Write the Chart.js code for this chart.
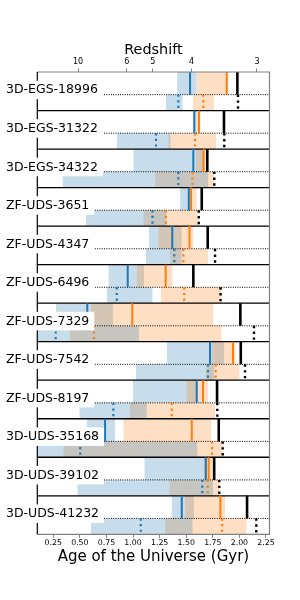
<!DOCTYPE html>
<html>
<head>
<meta charset="utf-8">
<script src="https://cdn.jsdelivr.net/npm/chart.js@4.4.1/dist/chart.umd.min.js"></script>
<style>
html, body { margin: 0; padding: 0; background: #ffffff; }
</style>
</head>
<body>
<canvas id="chart" width="300" height="600"></canvas>
<script>
const galaxies = ['3D-EGS-18996', '3D-EGS-31322', '3D-EGS-34322', 'ZF-UDS-3651', 'ZF-UDS-4347', 'ZF-UDS-6496',
	'ZF-UDS-7329', 'ZF-UDS-7542', 'ZF-UDS-8197', '3D-UDS-35168', '3D-UDS-39102', '3D-UDS-41232'];

// solid (upper half of each row), ages in Gyr
const blueLoSolid    = [1.414, 1.564, 1.003, 1.442, 1.150, 0.768, 0.276, 1.317, 0.997, 0.567, 1.106, 1.362];
const blueMedSolid   = [1.536, 1.576, 1.567, 1.524, 1.369, 0.950, 0.570, 1.724, 1.599, 0.737, 1.684, 1.458];
const blueHiSolid    = [1.599, 1.592, 1.667, 1.536, 1.458, 1.103, 0.815, 1.858, 1.605, 0.830, 1.696, 1.573];
const orangeLoSolid  = [1.599, 1.592, 1.592, 1.531, 1.238, 1.035, 0.605, 1.740, 1.501, 0.909, 1.667, 1.489];
const orangeMedSolid = [1.881, 1.620, 1.663, 1.545, 1.531, 1.307, 0.993, 1.940, 1.658, 1.552, 1.711, 1.821];
const orangeHiSolid  = [1.896, 1.636, 1.710, 1.599, 1.567, 1.371, 1.755, 1.964, 1.708, 1.736, 1.757, 1.865];
const blackSolid     = [1.981, 1.855, 1.698, 1.646, 1.702, 1.567, 2.009, 2.013, 1.790, 1.806, 1.763, 2.072];

// dotted (lower half of each row)
const blueLoDotted    = [1.310, 0.847, 0.337, 0.558, 1.122, 0.753, 0.050, 1.026, 0.495, 0.050, 0.476, 0.602];
const blueMedDotted   = [1.426, 1.216, 1.426, 1.183, 1.388, 0.847, 0.273, 1.705, 0.815, 0.504, 1.651, 1.073];
const blueHiDotted    = [1.467, 1.354, 1.708, 1.317, 1.458, 1.185, 1.056, 1.761, 1.129, 1.606, 1.752, 1.561];
const orangeLoDotted  = [1.561, 1.332, 1.207, 1.097, 1.348, 1.260, 0.407, 1.682, 0.971, 0.345, 1.341, 1.301];
const orangeMedDotted = [1.661, 1.583, 1.559, 1.308, 1.473, 1.481, 0.633, 1.776, 1.364, 1.743, 1.703, 1.838];
const orangeHiDotted  = [1.761, 1.780, 1.761, 1.614, 1.708, 1.827, 1.834, 2.003, 1.771, 1.843, 1.808, 2.069];
const blackDotted     = [1.987, 1.858, 1.764, 1.618, 1.771, 1.823, 2.137, 2.053, 1.792, 1.843, 1.811, 2.159];

const ageTicks = [0.25, 0.50, 0.75, 1.00, 1.25, 1.50, 1.75, 2.00, 2.25];
const redshiftLabels = ['10', '6', '5', '4', '3'];
const redshiftAges = [0.483, 0.941, 1.185, 1.551, 2.165];

const X_MIN = 0.1, X_MAX = 2.283;
const ROW = 1.7, SPLIT = 1.0;

const BLUE = '#1f77b4', ORANGE = '#ff7f0e';
const BLUE_FILL = 'rgba(31,119,180,0.25)', ORANGE_FILL = 'rgba(255,127,14,0.25)';

function halfRange(i, sub)
{
	if (sub === 'solid')
		return [i * ROW, i * ROW + SPLIT];
	return [i * ROW + SPLIT, (i + 1) * ROW];
}

function verticals(values, sub, color, width)
{
	let pts = [];
	values.forEach((v, i) => {
		const [y0, y1] = halfRange(i, sub);
		pts.push({x: v, y: y0}, {x: v, y: y1}, {x: v, y: null});
	});
	return {
		data: pts,
		borderColor: color,
		borderWidth: width,
		borderDash: sub === 'dotted' ? [width, 3.4] : [],
		borderCapStyle: 'butt',
		pointRadius: 0,
		fill: false
	};
}

function band(lo, hi, i, sub, color)
{
	const [y0, y1] = halfRange(i, sub);
	return {
		data: [{x: lo, y: y1}, {x: hi, y: y1}],
		borderColor: 'rgba(0,0,0,0)',
		borderWidth: 0,
		backgroundColor: color,
		pointRadius: 0,
		fill: {value: y0}
	};
}

function hLines(offset, count)
{
	let pts = [];
	for (let i = 0; i < count; i++)
	{
		const yv = i * ROW + offset;
		pts.push({x: X_MIN, y: yv}, {x: X_MAX, y: yv}, {x: X_MAX, y: null});
	}
	return pts;
}

// first dataset is drawn last (on top)
let datasets = [
	verticals(blackSolid, 'solid', '#000000', 2.6),
	verticals(orangeMedSolid, 'solid', ORANGE, 2),
	verticals(blueMedSolid, 'solid', BLUE, 2),
	verticals(blackDotted, 'dotted', '#000000', 2.4),
	verticals(orangeMedDotted, 'dotted', ORANGE, 2.2),
	verticals(blueMedDotted, 'dotted', BLUE, 2.2),
	{
		data: hLines(ROW, galaxies.length - 1),
		borderColor: '#000000', borderWidth: 1.3, pointRadius: 0, fill: false
	},
	{
		data: hLines(SPLIT, galaxies.length),
		borderColor: '#000000', borderWidth: 1, borderDash: [1, 1.3], borderCapStyle: 'butt', pointRadius: 0, fill: false
	}
];

galaxies.forEach((name, i) => {
	datasets.push(band(orangeLoSolid[i], orangeHiSolid[i], i, 'solid', ORANGE_FILL));
	datasets.push(band(blueLoSolid[i], blueHiSolid[i], i, 'solid', BLUE_FILL));
	datasets.push(band(blueLoDotted[i], blueHiDotted[i], i, 'dotted', BLUE_FILL));
	datasets.push(band(orangeLoDotted[i], orangeHiDotted[i], i, 'dotted', ORANGE_FILL));
});

const frameAndLabels = {
	id: 'frameAndLabels',
	afterDatasetsDraw(chart)
	{
		const {ctx, chartArea: a, scales: {y}} = chart;
		ctx.save();
		ctx.lineWidth = 1.2;
		ctx.strokeStyle = '#808080';
		ctx.beginPath();
		ctx.moveTo(a.left, a.top);
		ctx.lineTo(a.right, a.top);
		ctx.lineTo(a.right, a.bottom);
		ctx.lineTo(a.left, a.bottom);
		ctx.stroke();
		ctx.strokeStyle = '#000000';
		ctx.beginPath();
		ctx.moveTo(a.left, a.top);
		ctx.lineTo(a.left, a.bottom);
		ctx.stroke();

		ctx.font = '12.5px "DejaVu Sans"';
		ctx.textBaseline = 'alphabetic';
		galaxies.forEach((name, i) => {
			const mid = y.getPixelForValue(i * ROW + SPLIT);
			const w = ctx.measureText(name).width;
			ctx.fillStyle = '#ffffff';
			ctx.fillRect(1, mid - 14, w + 10, 18.5);
			ctx.fillStyle = '#000000';
			ctx.fillText(name, 6, mid - 1.2);
		});
		ctx.restore();
	}
};

const tickGrid = {
	drawOnChartArea: false,
	drawTicks: true,
	tickLength: 3.5,
	color: '#808080',
	lineWidth: 1
};

Chart.defaults.font.family = '"DejaVu Sans"';
Chart.defaults.color = '#000000';

new Chart(document.getElementById('chart'), {
	type: 'line',
	data: {datasets: datasets},
	options: {
		responsive: false,
		animation: false,
		devicePixelRatio: 1,
		layout: {padding: {left: 37.3, right: 30.5, top: 0, bottom: 0}},
		plugins: {
			legend: {display: false},
			tooltip: {enabled: false}
		},
		elements: {line: {tension: 0}, point: {radius: 0}},
		scales: {
			x: {
				type: 'linear',
				position: 'bottom',
				min: X_MIN,
				max: X_MAX,
				grid: tickGrid,
				border: {display: false},
				afterBuildTicks: (scale) => { scale.ticks = ageTicks.map(v => ({value: v})); },
				afterFit: (scale) => { scale.height = 65.7; },
				ticks: {
					autoSkip: false,
					maxRotation: 0,
					padding: 0.5,
					font: {size: 7.8},
					callback: (v) => Number(v).toFixed(2)
				},
				title: {
					display: true,
					text: 'Age of the Universe (Gyr)',
					font: {size: 15},
					padding: {top: 0, bottom: 34}
				}
			},
			x2: {
				type: 'linear',
				position: 'top',
				min: X_MIN,
				max: X_MAX,
				grid: tickGrid,
				border: {display: false},
				afterBuildTicks: (scale) => { scale.ticks = redshiftAges.map(v => ({value: v})); },
				afterFit: (scale) => { scale.height = 72; },
				ticks: {
					autoSkip: false,
					maxRotation: 0,
					padding: 2,
					font: {size: 8},
					callback: (v, i) => redshiftLabels[i]
				},
				title: {
					display: true,
					text: 'Redshift',
					font: {size: 14.4},
					padding: {top: 41.4, bottom: 0}
				}
			},
			y: {
				type: 'linear',
				display: false,
				reverse: true,
				min: 0,
				max: ROW * galaxies.length
			}
		}
	},
	plugins: [frameAndLabels]
});
</script>
</body>
</html>
